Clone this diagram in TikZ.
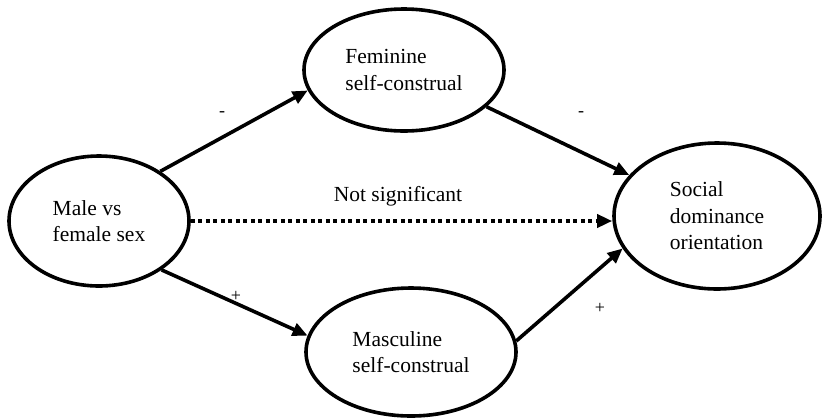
\documentclass[tikz,border=0pt]{standalone}
\usepackage{fontspec}
\setmainfont{Liberation Serif}
\usetikzlibrary{arrows.meta,shapes.geometric}
\begin{document}
\begin{tikzpicture}[x=1bp,y=-1bp,
  var/.style={draw,ellipse,line width=3.6bp,inner sep=0pt,align=left,
    font=\fontsize{21.5bp}{26.5bp}\selectfont},
  link/.style={line width=3.6bp,-{Triangle[length=15bp,width=13bp]}},
  nslink/.style={link,dash pattern=on 4bp off 3.5bp},
  sign/.style={font=\fontsize{18bp}{20bp}\selectfont,inner sep=0pt}
]
\useasboundingbox (0,0) rectangle (822,419);

\node[var,minimum width=180bp,minimum height=130bp] (male) at (99,221) {Male vs\\female sex};
\node[var,minimum width=200bp,minimum height=122bp] (fem) at (404,70) {Feminine\\self-construal};
\node[var,minimum width=210bp,minimum height=128bp] (mas) at (411,352) {Masculine\\self-construal};
\node[var,minimum width=206bp,minimum height=146bp] (sdo) at (717,216) {Social\\dominance\\orientation};

\draw[link] (male.39) -- (fem.192);
\draw[link] (fem.-24) -- (sdo.155);
\draw[nslink] (male.east) -- (sdo.west |- male.east);
\draw[link] (male.-38) -- (mas.171);
\draw[link] (mas.6) -- (sdo.199);

\node[sign] (s1) at (222,114) {-};
\node[sign] (s2) at (581,114) {-};
\node[sign] (s3) at (236,296) {+};
\node[sign] (s4) at (600,308) {+};
\node[font=\fontsize{21.5bp}{26.5bp}\selectfont,inner sep=0pt] (ns) at (398,196) {Not significant};
\end{tikzpicture}
\end{document}
